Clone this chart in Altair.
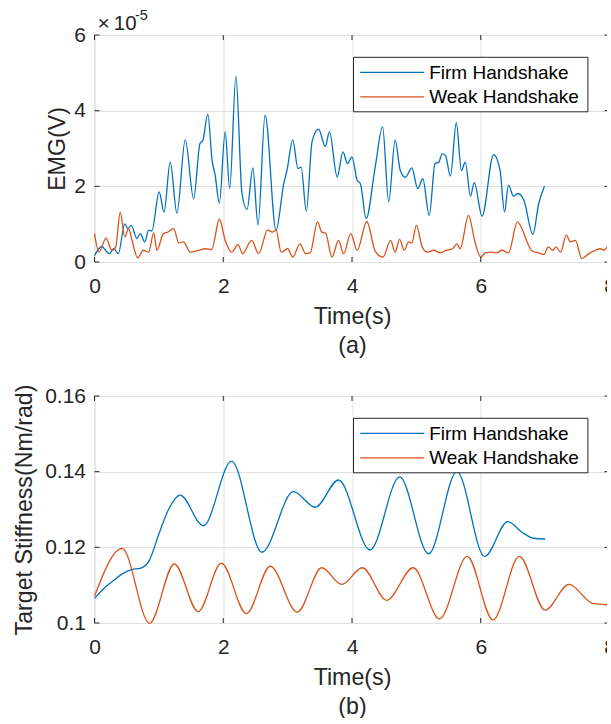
import altair as alt
import pandas as pd

FONT = "Liberation Sans"
TXT = "#262626"
GRID = "#dfdfdf"

series_names = ["Firm Handshake", "Weak Handshake"]
series_colors = ["#0072BD", "#D95319"]

x_ticks = [0, 2, 4, 6, 8]
emg_ticks = [0, 2, 4, 6]
stiff_ticks = [0.1, 0.12, 0.14, 0.16]

# ---- EMG (values in units of 1e-5 V) ----
emg_firm_t = [0.0, 0.115, 0.17, 0.23, 0.30, 0.37, 0.47, 0.52, 0.57, 0.66, 0.71, 0.78, 0.84, 0.89,
              1.005, 1.08, 1.176, 1.28, 1.41, 1.54, 1.64, 1.68, 1.76, 1.83, 1.87, 1.94, 2.03, 2.10,
              2.197, 2.29, 2.37, 2.46, 2.54, 2.65, 2.82, 2.94, 2.99, 3.08, 3.16, 3.21, 3.29, 3.38,
              3.48, 3.585, 3.65, 3.77, 3.86, 3.93, 4.0, 4.08, 4.13, 4.22, 4.36, 4.475, 4.57, 4.67,
              4.75, 4.83, 4.93, 5.02, 5.10, 5.20, 5.29, 5.35, 5.40, 5.45, 5.53, 5.62, 5.70, 5.76,
              5.84, 5.90, 6.02, 6.20, 6.30, 6.37, 6.43, 6.51, 6.58, 6.67, 6.81, 6.90, 6.99]
emg_firm_v = [0.17, 0.41, 0.31, 0.22, 0.35, 0.22, 1.01, 0.88, 0.97, 0.62, 0.75, 0.53, 0.84, 0.82,
              1.85, 1.32, 2.64, 1.29, 3.23, 1.67, 3.14, 3.20, 3.90, 2.64, 2.34, 1.56, 3.44, 1.94,
              4.91, 1.83, 1.39, 2.49, 0.98, 3.88, 0.84, 2.07, 2.42, 3.23, 2.47, 2.51, 1.35, 3.18,
              3.51, 3.06, 3.44, 2.25, 2.91, 2.60, 2.78, 2.16, 2.07, 1.15, 2.51, 3.57, 1.59, 3.22,
              2.42, 2.24, 2.49, 1.94, 2.20, 1.23, 2.60, 2.64, 2.86, 2.82, 2.27, 3.68, 2.42, 2.64,
              1.74, 2.10, 1.21, 2.84, 2.42, 1.32, 2.03, 1.74, 1.81, 1.63, 0.73, 1.54, 2.00]

emg_weak_t = [0.0, 0.07, 0.18, 0.27, 0.33, 0.40, 0.47, 0.53, 0.58, 0.67, 0.76, 0.84, 0.92, 0.97,
              1.07, 1.14, 1.23, 1.31, 1.38, 1.49, 1.62, 1.72, 1.82, 1.94, 2.03, 2.13, 2.23, 2.30,
              2.44, 2.55, 2.69, 2.76, 2.82, 2.90, 3.00, 3.08, 3.19, 3.28, 3.35, 3.465, 3.53, 3.59,
              3.69, 3.79, 3.87, 3.98, 4.08, 4.23, 4.36, 4.48, 4.60, 4.67, 4.74, 4.81, 4.88, 4.93,
              5.00, 5.09, 5.17, 5.27, 5.37, 5.45, 5.56, 5.63, 5.68, 5.81, 5.91, 6.00, 6.07, 6.18,
              6.24, 6.33, 6.43, 6.57, 6.65, 6.72, 6.80, 6.90, 6.98, 7.05, 7.12, 7.17, 7.24, 7.33,
              7.39, 7.47, 7.57, 7.68, 7.78, 7.86, 7.91, 7.99]
emg_weak_v = [0.75, 0.26, 0.63, 0.31, 0.40, 1.32, 0.66, 0.88, 0.59, 0.11, 0.31, 0.26, 0.77, 0.31,
              0.75, 0.79, 0.88, 0.50, 0.53, 0.26, 0.31, 0.35, 0.33, 1.13, 0.57, 0.26, 0.46, 0.22,
              0.57, 0.22, 0.84, 0.79, 0.84, 0.26, 0.35, 0.13, 0.48, 0.22, 0.24, 1.06, 0.79, 0.76,
              0.13, 0.57, 0.22, 0.75, 0.31, 1.07, 0.29, 0.13, 0.57, 0.26, 0.60, 0.31, 0.53, 0.50,
              0.97, 0.40, 0.26, 0.31, 0.24, 0.30, 0.35, 0.48, 0.35, 1.23, 0.53, 0.13, 0.24, 0.26,
              0.24, 0.31, 0.24, 1.06, 0.84, 0.53, 0.29, 0.24, 0.20, 0.40, 0.31, 0.40, 0.26, 0.71,
              0.53, 0.57, 0.09, 0.22, 0.31, 0.35, 0.31, 0.47]

# ---- Target stiffness (Nm/rad) ----
stiff_firm_t = [0.0, 0.15, 0.30, 0.45, 0.58, 0.72, 0.85, 1.0, 1.15, 1.33, 1.69, 2.13, 2.60, 3.09,
                3.43, 3.79, 4.28, 4.74, 5.19, 5.63, 6.06, 6.42, 6.64, 6.82, 7.0]
stiff_firm_v = [0.1065, 0.1092, 0.1113, 0.1132, 0.1141, 0.1145, 0.1165, 0.1235, 0.1300, 0.1338,
                0.1257, 0.1428, 0.1187, 0.1347, 0.1306, 0.1378, 0.1193, 0.1386, 0.1183, 0.1400,
                0.1176, 0.1268, 0.1240, 0.1224, 0.1222]

stiff_weak_t = [0.0, 0.43, 0.855, 1.24, 1.61, 1.97, 2.36, 2.73, 3.15, 3.53, 3.84, 4.16, 4.54,
                4.95, 5.36, 5.79, 6.19, 6.60, 7.0, 7.37, 7.75, 8.0]
stiff_weak_v = [0.1071, 0.1197, 0.0999, 0.1156, 0.1030, 0.1158, 0.1025, 0.1150, 0.1029, 0.1146,
                0.1102, 0.1146, 0.1060, 0.1146, 0.1011, 0.1176, 0.1008, 0.1176, 0.1034, 0.1102,
                0.1051, 0.1048]

W, H = 515, 227


def make_df(t, v, name):
    return pd.DataFrame({"t": t, "v": v, "series": name})


def panel(firm_df, weak_df, ydom, yticks, ytitle, xtitle, yfmt, ytitle_x, extra=None):
    xscale = alt.Scale(domain=[0, 8], nice=False, zero=False)
    yscale = alt.Scale(domain=ydom, nice=False, zero=False)
    cscale = alt.Scale(domain=series_names, range=series_colors)

    xaxis = alt.Axis(values=x_ticks, title=xtitle, grid=True, gridColor=GRID, ticks=False,
                     domain=False, labelFontSize=21, labelPadding=13, labelFlush=False,
                     labelOverlap=False, labelColor=TXT, titleFontSize=23.2,
                     titleFontWeight="normal", titleColor=TXT, titlePadding=9,
                     titleLineHeight=29)
    yaxis = alt.Axis(values=yticks, title=ytitle, grid=True, gridColor=GRID, ticks=False,
                     domain=False, labelFontSize=21, labelPadding=9, labelFlush=False,
                     labelOverlap=False, labelColor=TXT, format=yfmt, titleFontSize=23.2,
                     titleFontWeight="normal", titleColor=TXT, titleX=ytitle_x)

    X = lambda: alt.X("t:Q", scale=xscale, axis=xaxis)
    Y = lambda: alt.Y("v:Q", scale=yscale, axis=yaxis)

    base_line = dict(strokeWidth=1.3, interpolate="monotone")
    firm = alt.Chart(firm_df).mark_line(**base_line).encode(
        x=X(), y=Y(), color=alt.Color("series:N", scale=cscale, legend=None))
    weak = alt.Chart(weak_df).mark_line(**base_line).encode(
        x=X(), y=Y(), color=alt.Color("series:N", scale=cscale, legend=None))

    # inward tick marks on all four sides
    xt = pd.DataFrame({"t": x_ticks})
    yt = pd.DataFrame({"v": yticks})
    tick_b = alt.Chart(xt).mark_rule(color=TXT, strokeWidth=1).encode(
        x=X(), y=alt.value(H), y2=alt.value(H - 5))
    tick_t = alt.Chart(xt).mark_rule(color=TXT, strokeWidth=1).encode(
        x=X(), y=alt.value(0), y2=alt.value(5))
    tick_l = alt.Chart(yt).mark_rule(color=TXT, strokeWidth=1).encode(
        y=Y(), x=alt.value(0), x2=alt.value(5))
    tick_r = alt.Chart(yt).mark_rule(color=TXT, strokeWidth=1).encode(
        y=Y(), x=alt.value(W), x2=alt.value(W - 5))

    # legend box
    leg_df = pd.DataFrame({"series": series_names})
    box = alt.Chart(pd.DataFrame({"k": [0]})).mark_rect(
        fill="white", stroke=TXT, strokeWidth=1).encode(
        x=alt.value(259), x2=alt.value(493.4), y=alt.value(22.3), y2=alt.value(76.8))
    leg_layers = [box]
    row_y = [37.4, 61.8]
    for i, (name, col) in enumerate(zip(series_names, series_colors)):
        sub = alt.Chart(leg_df).transform_filter(alt.datum.series == name)
        leg_layers.append(sub.mark_rule(color=col, strokeWidth=1.3).encode(
            x=alt.value(265.7), x2=alt.value(329.7), y=alt.value(row_y[i])))
        leg_layers.append(sub.mark_text(align="left", baseline="middle", fontSize=19,
                                        color="#000000", font=FONT).encode(
            x=alt.value(334.7), y=alt.value(row_y[i] + 0.5), text="series:N"))

    layers = [firm, weak, tick_b, tick_t, tick_l, tick_r] + leg_layers
    if extra:
        layers += extra
    return alt.layer(*layers).properties(width=W, height=H)


exp_df = pd.DataFrame({"times": ["\u00d7"], "base": ["10"], "exp": ["-5"]})
exp_times = alt.Chart(exp_df).mark_text(align="left", baseline="alphabetic", fontSize=21,
                                        color=TXT, font=FONT).encode(
    x=alt.value(3.0), y=alt.value(-5.4), text="times:N")
exp_base = alt.Chart(exp_df).mark_text(align="left", baseline="alphabetic", fontSize=20.5,
                                       color=TXT, font=FONT).encode(
    x=alt.value(19.3), y=alt.value(-5.4), text="base:N")
exp_sup = alt.Chart(exp_df).mark_text(align="left", baseline="alphabetic", fontSize=14.5,
                                      color=TXT, font=FONT).encode(
    x=alt.value(40.5), y=alt.value(-15), text="exp:N")

top = panel(make_df(emg_firm_t, emg_firm_v, series_names[0]),
            make_df(emg_weak_t, emg_weak_v, series_names[1]),
            [0, 6], emg_ticks, "EMG(V)", ["Time(s)", "(a)"], "d", -25.1,
            extra=[exp_times, exp_base, exp_sup])
bottom = panel(make_df(stiff_firm_t, stiff_firm_v, series_names[0]),
               make_df(stiff_weak_t, stiff_weak_v, series_names[1]),
               [0.1, 0.16], stiff_ticks, "Target Stiffness(Nm/rad)", ["Time(s)", "(b)"],
               ".2~f", -57.8)

chart = alt.vconcat(top, bottom, spacing=134, bounds="flush").properties(
    padding={"left": 11.5, "top": 7, "right": -10, "bottom": 0},
    background="white",
).configure_view(stroke=TXT, strokeWidth=1).configure(font=FONT)

chart.save("out.html", embed_options={"renderer": "svg", "actions": False})
